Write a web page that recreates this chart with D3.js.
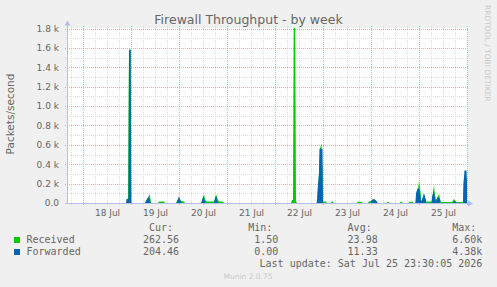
<!DOCTYPE html>
<html>
<head>
<meta charset="utf-8">
<script src="https://cdn.jsdelivr.net/npm/d3@7"></script>
<style>
body{margin:0;background:#f0f0f0}
svg{display:block}
text{fill:#666}
</style>
</head>
<body>
<div id="graph"></div>
<script>
var title = 'Firewall Throughput - by week'
var yLabel = 'Packets/second'
var start = new Date(2026, 6, 17, 16, 0)
var end = new Date(2026, 6, 26, 0, 0)
var yTicks = [0, 200, 400, 600, 800, 1000, 1200, 1400, 1600, 1800]
var dayDates = ['2026-07-18', '2026-07-19', '2026-07-20', '2026-07-21', '2026-07-22', '2026-07-23', '2026-07-24', '2026-07-25']

// [hours since start, packets/s]
var receivedPts = [
	[0,0],[30,0],[30.5,40],[31,1580],[31.75,1580],[32.25,0],
	[39,0],[39.5,20],[40.5,50],[41.25,95],[41.75,40],[42,0],
	[45.5,0],[46,15],[48.5,15],[49,0],
	[54.5,0],[55,20],[56,60],[57,20],[58.5,15],[59,0],
	[67,0],[67.5,30],[68.5,90],[69,30],[70,15],[73.5,15],[74.5,90],[75.25,40],[76,15],[78,15],[78.5,0],
	[112,0],[112.5,30],[113,30],[113.5,2700],[114,2300],[114.5,20],[115,0],
	[124.5,0],[125,15],[126,300],[126.5,560],[127.25,620],[127.75,300],[128,15],[129.5,15],[130,0],
	[132,0],[132.25,15],[133,15],[133.25,0],
	[145,0],[145.25,12],[147.5,12],[147.75,0],
	[150.5,0],[150.75,12],[152,20],[153,35],[154.5,20],[155.25,0],
	[160,0],[160.25,10],[161,10],[161.25,0],
	[166.5,0],[166.75,12],[167.5,12],[167.75,0],
	[171,0],[171.25,12],[173,12],[173.25,0],
	[174.25,0],[174.5,60],[175.5,140],[176,230],[176.75,120],[177,15],[178,60],[178.5,100],[179.5,15],
	[182.5,15],[183,100],[183.5,188],[184,80],[184.5,30],[186,93],[186.75,20],[187,10],
	[192.5,10],[193.5,40],[194.5,10],[198,10],[198.5,260],[200,262.56]
]
var forwardedPts = [
	[0,0],[29.5,0],[29.85,45],[30.75,45],[31,1580],[31.85,1580],[32,0],
	[39,0],[39.5,20],[40,40],[40.75,68],[41.5,20],[41.75,0],
	[54.75,0],[55,15],[56,68],[57,10],[57.25,0],
	[67.25,0],[67.5,20],[68.25,75],[69,15],[69.25,0],
	[73.5,0],[73.75,20],[74.5,75],[75.25,15],[75.5,0],
	[125,0],[125.35,150],[126,310],[126.25,560],[127.75,560],[128,0],
	[151.75,0],[152,15],[153,40],[154,35],[155.15,10],[155.25,0],
	[174.25,0],[174.5,100],[175.25,150],[176,150],[176.75,80],[177,10],[177.75,50],[178.5,96],[179.35,40],[179.5,0],
	[182.25,0],[182.5,60],[183.25,130],[184,60],[184.25,10],[184.75,30],[185.5,62],[186.5,40],[186.75,0],
	[193,0],[193.5,20],[194.5,15],[194.75,0],
	[198,0],[198.25,200],[198.75,335],[199.75,335],[200,204.46]
]

var seriesNames = ['Received', 'Forwarded']
var seriesColors = ['#00cc00', '#0066b3']
var curVals = ['262.56', '204.46']
var minVals = ['1.50', '0.00']
var avgVals = ['23.98', '11.33']
var maxVals = ['6.60k', '4.38k']
var lastUpdate = 'Last update: Sat Jul 25 23:30:05 2026'

var W = 497, H = 287
var svg = d3.select('#graph').append('svg').attr('width', W).attr('height', H)
	.style('font-family', 'DejaVu Sans')

var x = d3.scaleTime().domain([start, end]).range([67, 467])
var y = d3.scaleLinear().domain([0, 1800]).range([203, 28.5])
var px = v => Math.round(v) + .5

svg.append('rect').attr('x', 67).attr('y', 28).attr('width', 400).attr('height', 175).attr('fill', '#fff')

var toPts = arr => arr.map(d => ({t: new Date(+start + d[0]*36e5), v: d[1]}))

// grid
var grid = svg.append('g').attr('stroke-dasharray', '1,1').attr('stroke-width', 1).attr('fill', 'none')
var minorY = d3.range(100, 1801, 200)
grid.selectAll('.my').data(minorY).join('line')
	.attr('x1', 65).attr('x2', 469).attr('y1', d => px(y(d))).attr('y2', d => px(y(d)))
	.attr('stroke', '#dcdcdc')
grid.selectAll('.mx').data(x.ticks(d3.timeHour.every(6)).filter(d => d.getHours() != 0)).join('line')
	.attr('y1', 26).attr('y2', 206).attr('x1', d => px(x(d))).attr('x2', d => px(x(d)))
	.attr('stroke', '#dcdcdc')
grid.selectAll('.My').data(yTicks).join('line')
	.attr('x1', 65).attr('x2', 469).attr('y1', d => px(y(d))).attr('y2', d => px(y(d)))
	.attr('stroke', '#e8aeae')
grid.selectAll('.Mx').data(x.ticks(d3.timeDay.every(1))).join('line')
	.attr('y1', 26).attr('y2', 206).attr('x1', d => px(x(d))).attr('x2', d => px(x(d)))
	.attr('stroke', '#e8aeae')

// data
svg.append('clipPath').attr('id', 'clip').append('rect')
	.attr('x', 67).attr('y', 28).attr('width', 400).attr('height', 175)
var area = d3.area().x(d => x(d.t)).y0(y(0)).y1(d => y(d.v))
var plot = svg.append('g').attr('clip-path', 'url(#clip)')
;[receivedPts, forwardedPts].forEach((s, i) => {
	plot.append('path').datum(toPts(s)).attr('d', area).attr('fill', seriesColors[i])
})

// axes
var axisColor = '#b4bdf0'
svg.append('line').attr('x1', 67.5).attr('x2', 67.5).attr('y1', 203.5).attr('y2', 24).attr('stroke', axisColor)
svg.append('line').attr('x1', 66).attr('x2', 469).attr('y1', 203.5).attr('y2', 203.5).attr('stroke', axisColor)
svg.append('path').attr('d', 'M64.5,25.5L67.5,20.5L70.5,25.5Z').attr('fill', axisColor)
svg.append('path').attr('d', 'M468,200.5L473,203.5L468,206.5Z').attr('fill', axisColor)

var yAxis = d3.axisLeft(y).tickValues(yTicks).tickSize(0).tickPadding(8)
	.tickFormat(v => v === 0 ? '0.0' : (v/1000).toFixed(1) + ' k')
svg.append('g').attr('transform', 'translate(67,0)').call(yAxis)
	.call(g => g.select('.domain').remove())
	.selectAll('text').attr('font-size', 9).attr('font-family', 'DejaVu Sans').style('fill', '#666')

var noon = dayDates.map(s => d3.timeHour.offset(d3.timeParse('%Y-%m-%d')(s), 12))
var xAxis = d3.axisBottom(x).tickValues(noon).tickSize(0).tickPadding(6.5)
	.tickFormat(d3.timeFormat('%-d %b'))
svg.append('g').attr('transform', 'translate(0,203)').call(xAxis)
	.call(g => g.select('.domain').remove())
	.selectAll('text').attr('font-size', 9).attr('font-family', 'DejaVu Sans').style('fill', '#666')

// titles
svg.append('text').attr('x', 248.5).attr('y', 24).attr('text-anchor', 'middle')
	.attr('font-size', 12.5).text(title)
svg.append('text').attr('transform', 'translate(14,114) rotate(-90)').attr('text-anchor', 'middle')
	.attr('font-size', 10.5).text(yLabel)
svg.append('text').attr('transform', 'translate(485,5) rotate(90)')
	.attr('font-size', 7.5).style('fill', '#c8c8c8').text('RRDTOOL / TOBI OETIKER')

// legend
var mono = svg.append('g').attr('font-family', 'DejaVu Sans Mono').attr('font-size', 10)
var cols = [179, 278.3, 377.7, 482.3]
;['Cur:', 'Min:', 'Avg:', 'Max:'].forEach((h, i) => {
	mono.append('text').attr('x', cols[i] - 6).attr('y', 231).attr('text-anchor', 'end').text(h)
})
seriesNames.forEach((n, i) => {
	var yy = 243 + i*12
	mono.append('rect').attr('x', 14).attr('y', yy - 6).attr('width', 6).attr('height', 6).attr('fill', seriesColors[i])
	mono.append('text').attr('x', 26.5).attr('y', yy).text(n)
	;[curVals, minVals, avgVals, maxVals].forEach((arr, j) => {
		mono.append('text').attr('x', cols[j]).attr('y', yy).attr('text-anchor', 'end').text(arr[i])
	})
})
mono.append('text').attr('x', 482.3).attr('y', 267).attr('text-anchor', 'end').text(lastUpdate)

svg.append('text').attr('x', 248).attr('y', 279).attr('text-anchor', 'middle')
	.attr('font-size', 7.5).style('fill', '#c8c8c8').text('Munin 2.0.75')
</script>
</body>
</html>
